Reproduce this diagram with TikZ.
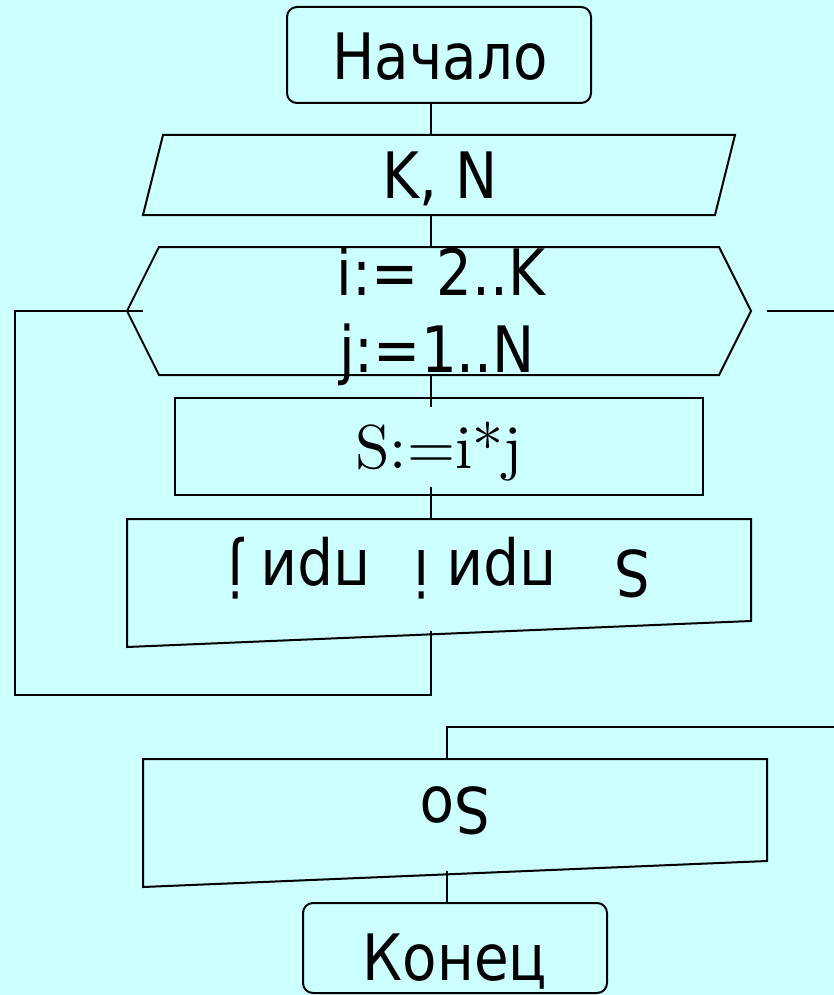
\documentclass[tikz,border=0pt]{standalone}
\usepackage{fontspec}
\setmainfont{DejaVu Sans}[FakeStretch=0.88]
\newfontfamily\lmr{lmroman10-regular.otf}
\definecolor{bgcyan}{RGB}{204,255,255}
\begin{document}
\begin{tikzpicture}[x=1pt,y=-1pt,
  shapeline/.style={draw=black,line width=2pt,line join=miter},
  flowline/.style={draw=black,line width=2pt},
  txt/.style={anchor=base,inner sep=0pt,font=\fontsize{64}{77}\selectfont},
  serif/.style={anchor=base,inner sep=0pt,font=\lmr\fontsize{62}{74}\selectfont},
  rtxt/.style={txt,rotate=180}]
\fill[bgcyan] (0,0) rectangle (834,995);
\useasboundingbox (0,0) rectangle (834,995);

% shapes
\draw[shapeline,rounded corners=10pt] (287,7) rectangle (591,103);
\draw[shapeline] (163,135) -- (735,135) -- (715,215) -- (143,215) -- cycle;
\draw[shapeline] (159,247) -- (719,247) -- (751,311) -- (719,375) -- (159,375) -- (127,311) -- cycle;
\draw[shapeline] (175,398) rectangle (703,495);
\draw[shapeline] (127,519) -- (751,519) -- (751,621) -- (127,647) -- cycle;
\draw[shapeline] (143,759) -- (767,759) -- (767,861) -- (143,887) -- cycle;
\draw[shapeline,rounded corners=10pt] (303,903) rectangle (607,993);

% connector end points
\coordinate (startB) at (431,103);
\coordinate (inT) at (431,135);
\coordinate (inB) at (431,215);
\coordinate (loopT) at (431,247);
\coordinate (loopB) at (431,375);
\coordinate (procT) at (431,407);
\coordinate (procB) at (431,487);
\coordinate (out1T) at (431,519);
\coordinate (out1B) at (431,631);
\coordinate (ret1) at (431,695);
\coordinate (ret2) at (15,695);
\coordinate (ret3) at (15,311);
\coordinate (loopL) at (143,311);
\coordinate (loopR) at (767,311);
\coordinate (exitR) at (834,311);
\coordinate (exit2) at (834,727);
\coordinate (exit3) at (447,727);
\coordinate (out2T) at (447,759);
\coordinate (out2B) at (447,871);
\coordinate (endT) at (447,903);

% connectors
\draw[flowline] (startB) -- (inT);
\draw[flowline] (inB) -- (loopT);
\draw[flowline] (loopB) -- (procT);
\draw[flowline] (procB) -- (out1T);
\draw[flowline] (out1B) -- (ret1) -- (ret2) -- (ret3) -- (loopL);
\draw[flowline] (loopR) -- (exitR);
\draw[flowline] (exit2) -- (exit3) -- (out2T);
\draw[flowline] (out2B) -- (endT);

% texts
\node[txt] (start) at (440,80) {Начало};
\node[txt] (input) at (440,198) {K, N};
\node[txt] (loop1) at (441,295) {i:= 2..K};
\node[txt] (loop2) at (437,372) {j:=1..N};
\node[serif] (proc) at (439,468) {S:=i*j};
\node[rtxt] (out1) at (439,550) {S\hspace{58pt}при i\hspace{43pt}при j};
\node[rtxt] (out2) at (455,787) {So};
\node[txt] (finish) at (455,980) {Конец};
\end{tikzpicture}
\end{document}
